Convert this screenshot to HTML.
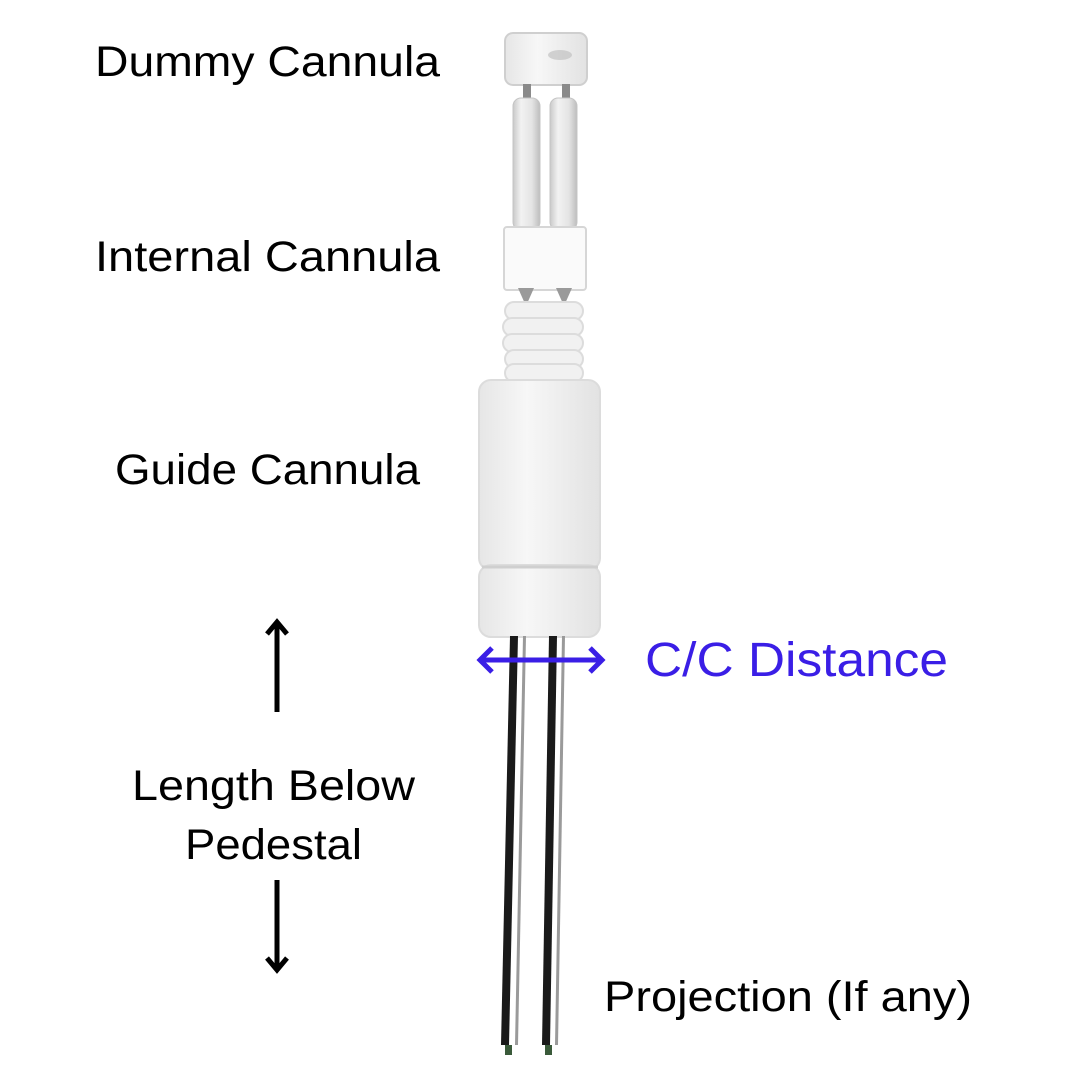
<!DOCTYPE html>
<html><head><meta charset="utf-8"><style>
html,body{margin:0;padding:0;background:#fff;}
svg{display:block;}
text{font-family:"Liberation Sans","DejaVu Sans",sans-serif;}
</style></head><body>
<svg width="1080" height="1080" viewBox="0 0 1080 1080" xmlns="http://www.w3.org/2000/svg">
<defs>
<linearGradient id="tube" x1="0" x2="1">
<stop offset="0" stop-color="#c9c9c9"/><stop offset="0.3" stop-color="#f2f2f2"/><stop offset="0.7" stop-color="#e4e4e4"/><stop offset="1" stop-color="#bdbdbd"/>
</linearGradient>
<linearGradient id="plast" x1="0" x2="1">
<stop offset="0" stop-color="#e6e6e6"/><stop offset="0.4" stop-color="#f7f7f7"/><stop offset="1" stop-color="#e2e2e2"/>
</linearGradient>
</defs>
<rect width="1080" height="1080" fill="#fff"/>
<!-- dummy cap -->
<rect x="505" y="33" width="82" height="52" rx="8" fill="url(#plast)" stroke="#cfcfcf" stroke-width="2"/>
<ellipse cx="560" cy="55" rx="12" ry="5" fill="#bbb" opacity="0.6"/>
<!-- wire tips -->
<rect x="523" y="84" width="8" height="20" fill="#8a8a8a"/>
<rect x="562" y="84" width="8" height="20" fill="#8a8a8a"/>
<!-- internal tubes -->
<rect x="513" y="98" width="27" height="132" rx="8" fill="url(#tube)" stroke="#c4c4c4"/>
<rect x="550" y="98" width="27" height="132" rx="8" fill="url(#tube)" stroke="#c4c4c4"/>
<!-- collar -->
<rect x="504" y="227" width="82" height="63" rx="3" fill="#fafafa" stroke="#d6d6d6" stroke-width="2"/>
<path d="M518 288 l8 18 l8 -18 Z M556 288 l8 18 l8 -18 Z" fill="#9a9a9a"/>
<!-- threads -->
<g fill="#f1f1f1" stroke="#dcdcdc" stroke-width="2">
<rect x="505" y="302" width="78" height="18" rx="9"/>
<rect x="503" y="318" width="80" height="18" rx="9"/>
<rect x="503" y="334" width="80" height="18" rx="9"/>
<rect x="505" y="350" width="78" height="18" rx="9"/>
<rect x="505" y="364" width="78" height="18" rx="9"/>
</g>
<!-- pedestal -->
<rect x="479" y="380" width="121" height="190" rx="12" fill="url(#plast)" stroke="#dcdcdc" stroke-width="2"/>
<rect x="479" y="565" width="121" height="72" rx="12" fill="url(#plast)" stroke="#dcdcdc" stroke-width="2"/>
<line x1="482" y1="567" x2="598" y2="567" stroke="#cfcfcf" stroke-width="3"/>
<!-- needles -->
<polygon points="510,636 518,636 509,1045 501,1045" fill="#1a1a1a"/>
<polygon points="523,636 526,636 518,1045 515,1045" fill="#9a9a9a"/>
<polygon points="549,636 557,636 550,1045 542,1045" fill="#1a1a1a"/>
<polygon points="562,636 565,636 558,1045 555,1045" fill="#9a9a9a"/>
<rect x="505" y="1045" width="7" height="10" fill="#3a5a3a"/>
<rect x="545" y="1045" width="7" height="10" fill="#3a5a3a"/>
<!-- blue arrow -->
<g stroke="#3a1ee6" stroke-width="5" fill="none" stroke-linecap="butt">
<line x1="480" y1="660" x2="602" y2="660"/>
<polyline points="492,648 480,660 492,672"/>
<polyline points="590,648 602,660 590,672"/>
</g>
<!-- black arrows -->
<g stroke="#000" stroke-width="5" fill="none">
<line x1="277" y1="622" x2="277" y2="712"/>
<polyline points="267,634 277,622 287,634"/>
<line x1="277" y1="880" x2="277" y2="970"/>
<polyline points="267,958 277,970 287,958"/>
</g>
<!-- labels -->
<g font-size="43" fill="#000">
<text x="95" y="76" textLength="345" lengthAdjust="spacingAndGlyphs">Dummy Cannula</text>
<text x="95" y="271" textLength="345" lengthAdjust="spacingAndGlyphs">Internal Cannula</text>
<text x="115" y="484" textLength="305" lengthAdjust="spacingAndGlyphs">Guide Cannula</text>
<text x="132" y="800" textLength="283" lengthAdjust="spacingAndGlyphs">Length Below</text>
<text x="185" y="859" textLength="177" lengthAdjust="spacingAndGlyphs">Pedestal</text>
<text x="604" y="1011" textLength="368" lengthAdjust="spacingAndGlyphs">Projection (If any)</text>
</g>
<text x="645" y="676" font-size="48" fill="#3a1ee6" textLength="303" lengthAdjust="spacingAndGlyphs">C/C Distance</text>
</svg>
</body></html>
